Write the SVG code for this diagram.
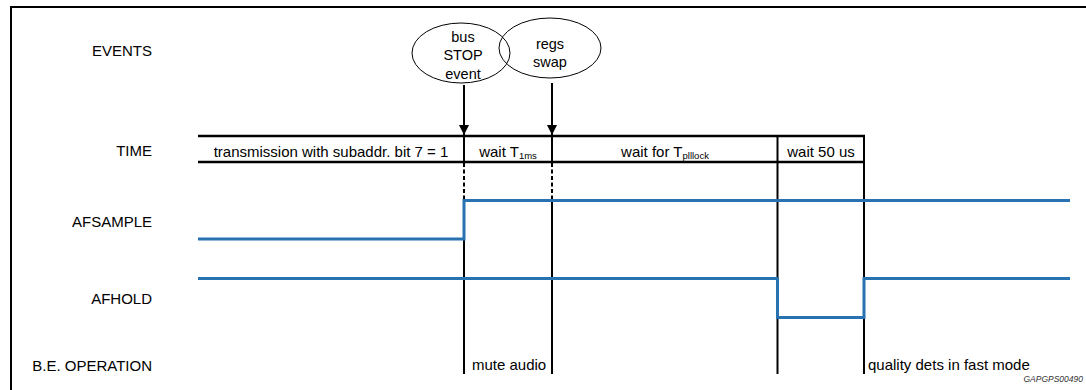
<svg xmlns="http://www.w3.org/2000/svg" width="1086" height="390" viewBox="0 0 1086 390">
  <style>
    text { font-family: "Liberation Sans", Arial, sans-serif; fill: #000; }
    .lbl { font-size: 15px; text-anchor: end; }
    .cell { font-size: 15px; text-anchor: middle; }
    .ev { font-size: 14.5px; text-anchor: middle; }
    .sub { font-size: 9.5px; }
    .op { font-size: 15px; }
    .row { stroke: #000; stroke-width: 2.6; fill: none; }
    .sep { stroke: #000; stroke-width: 2; fill: none; }
    .dash { stroke: #000; stroke-width: 2; stroke-dasharray: 4 2.5; fill: none; }
    .sig { stroke: #2872b2; stroke-width: 3; fill: none; stroke-linejoin: miter; }
    .ell { stroke: #000; stroke-width: 1; fill: none; }
    .arr { stroke: #000; stroke-width: 2; fill: none; marker-end: url(#ah); }
    .code { font-size: 8.5px; font-style: italic; text-anchor: end; fill: #333; }
  </style>
  <defs>
    <marker id="ah" viewBox="0 0 10 10" refX="10" refY="5" markerWidth="10" markerHeight="10" markerUnits="userSpaceOnUse" orient="auto">
      <path d="M0,0 L10,5 L0,10 Z" fill="#000"/>
    </marker>
  </defs>

  <g id="frame">
    <path d="M11,390 L11,7 L1086,7" stroke="#000" stroke-width="2" fill="none"/>
  </g>

  <g id="row-labels">
    <text class="lbl" x="152" y="56">EVENTS</text>
    <text class="lbl" x="152" y="156">TIME</text>
    <text class="lbl" x="152" y="227">AFSAMPLE</text>
    <text class="lbl" x="152" y="304">AFHOLD</text>
    <text class="lbl" x="152" y="371">B.E. OPERATION</text>
  </g>

  <g id="event-bus-stop">
    <ellipse class="ell" cx="461" cy="53" rx="49" ry="30"/>
    <text class="ev" x="463" y="41.5">bus</text>
    <text class="ev" x="463" y="60">STOP</text>
    <text class="ev" x="463" y="78.5">event</text>
  </g>

  <g id="event-regs-swap">
    <ellipse class="ell" cx="550" cy="48" rx="51" ry="30"/>
    <text class="ev" x="550" y="48.5">regs</text>
    <text class="ev" x="550" y="67">swap</text>
  </g>

  <g id="time-row">
    <line class="row" x1="198" y1="136" x2="865" y2="136"/>
    <line class="row" x1="198" y1="162" x2="865" y2="162"/>
    <line class="sep" x1="464" y1="136" x2="464" y2="162"/>
    <line class="sep" x1="552" y1="136" x2="552" y2="162"/>
    <line class="sep" x1="777.5" y1="136" x2="777.5" y2="162"/>
    <line class="sep" x1="864" y1="135" x2="864" y2="163"/>
  </g>

  <g id="cell-transmission">
    <text class="cell" x="331" y="156.5">transmission with subaddr. bit 7 = 1</text>
  </g>
  <g id="cell-wait-t1ms">
    <text class="cell" x="508" y="156.5">wait T<tspan class="sub" dy="2">1ms</tspan></text>
  </g>
  <g id="cell-wait-plllock">
    <text class="cell" x="665" y="156.5">wait for T<tspan class="sub" dy="2">plllock</tspan></text>
  </g>
  <g id="cell-wait-50us">
    <text class="cell" x="821" y="156.5">wait 50 us</text>
  </g>

  <g id="markers">
    <line class="dash" x1="464" y1="163" x2="464" y2="200"/>
    <line class="dash" x1="552" y1="163" x2="552" y2="200"/>
    <line class="sep" x1="464" y1="200" x2="464" y2="374"/>
    <line class="sep" x1="552" y1="198" x2="552" y2="374"/>
    <line class="sep" x1="777.5" y1="162" x2="777.5" y2="374"/>
    <line class="sep" x1="864" y1="162" x2="864" y2="374"/>
  </g>

  <g id="signal-afsample">
    <path class="sig" d="M198,239 L464,239 L464,200.5 L1070,200.5"/>
  </g>
  <g id="signal-afhold">
    <path class="sig" d="M198,278.5 L777.5,278.5 L777.5,317.5 L864,317.5 L864,278.5 L1070,278.5"/>
  </g>

  <g id="op-mute-audio">
    <text class="op" x="472" y="370">mute audio</text>
  </g>
  <g id="op-quality-dets">
    <text class="op" x="868" y="370">quality dets in fast mode</text>
  </g>

  <g id="connectors">
    <line class="arr" x1="464" y1="85" x2="464" y2="135"/>
    <line class="arr" x1="552" y1="83" x2="552" y2="135"/>
  </g>

  <text class="code" x="1083" y="381.5">GAPGPS00490</text>
</svg>
